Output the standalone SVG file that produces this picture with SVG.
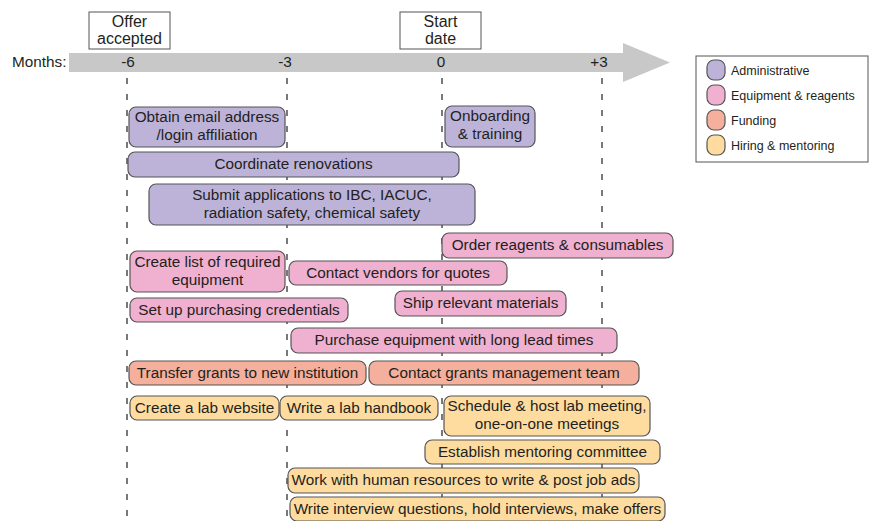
<svg xmlns="http://www.w3.org/2000/svg" width="869" height="521" viewBox="0 0 869 521">
<style>
text{font-family:"Liberation Sans",Arial,sans-serif;fill:#231f20;font-size:15.3px}
.c{text-anchor:middle}
.bar{stroke:#555;stroke-width:1.2}
.adm{fill:#bdb3d9}.eq{fill:#f0b0d0}.fun{fill:#f4b09c}.hir{fill:#fedca0}
.grid{stroke:#231f20;stroke-width:1.2;stroke-dasharray:6 10;fill:none}
.lg{font-size:12.5px}
.hdr{fill:#fff;stroke:#555;stroke-width:1}
.ht{font-size:16px}
</style>
<rect width="869" height="521" fill="#fff"/>
<g id="axis">
<path d="M69 53 H623 V43 L670 62.5 L623 82 V72 H69 Z" fill="#c8c8c8"/>
<text x="12" y="67">Months:</text>
<text class="c" x="128" y="67">-6</text>
<text class="c" x="285" y="67">-3</text>
<text class="c" x="441" y="67">0</text>
<text class="c" x="599" y="67">+3</text>
</g>
<g id="connectors">
<line class="grid" x1="127" y1="78" x2="127" y2="521"/>
<line class="grid" x1="287" y1="78" x2="287" y2="521"/>
<line class="grid" x1="442" y1="78" x2="442" y2="521"/>
<line class="grid" x1="602" y1="78" x2="602" y2="521"/>
</g>
<g id="offer">
<rect class="hdr" x="89" y="12" width="81" height="37"/>
<text class="c ht" x="129.5" y="27">Offer</text>
<text class="c ht" x="129.5" y="44">accepted</text>
</g>
<g id="start">
<rect class="hdr" x="400" y="12" width="81" height="37"/>
<text class="c ht" x="440.5" y="27">Start</text>
<text class="c ht" x="440.5" y="44">date</text>
</g>
<g id="legend">
<rect x="696" y="56" width="172" height="106" fill="#fff" stroke="#555" stroke-width="1"/>
<rect class="bar adm" x="707" y="60" width="18" height="20" rx="7"/>
<text class="lg" x="731" y="74.5">Administrative</text>
<rect class="bar eq" x="707" y="85" width="18" height="20" rx="7"/>
<text class="lg" x="731" y="99.5">Equipment &amp; reagents</text>
<rect class="bar fun" x="707" y="110" width="18" height="20" rx="7"/>
<text class="lg" x="731" y="124.5">Funding</text>
<rect class="bar hir" x="707" y="135" width="18" height="20" rx="7"/>
<text class="lg" x="731" y="149.5">Hiring &amp; mentoring</text>
</g>
<g id="obtain"><rect class="bar adm" x="129" y="107" width="156" height="40" rx="7"/>
<text class="c" x="207" y="121.5">Obtain email address</text><text class="c" x="207" y="139.5">/login affiliation</text></g>
<g id="onboarding"><rect class="bar adm" x="445" y="106" width="90" height="41" rx="7"/>
<text class="c" x="490" y="121">Onboarding</text><text class="c" x="490" y="139">&amp; training</text></g>
<g id="renovations"><rect class="bar adm" x="128" y="152" width="331" height="25" rx="7"/>
<text class="c" x="293.5" y="169">Coordinate renovations</text></g>
<g id="submit"><rect class="bar adm" x="149" y="184" width="326" height="41" rx="7"/>
<text class="c" x="312" y="200">Submit applications to IBC, IACUC,</text><text class="c" x="312" y="218">radiation safety, chemical safety</text></g>
<g id="order"><rect class="bar eq" x="442" y="233" width="231" height="25" rx="7"/>
<text class="c" x="557.5" y="250">Order reagents &amp; consumables</text></g>
<g id="createlist"><rect class="bar eq" x="130" y="251" width="155" height="41" rx="7"/>
<text class="c" x="207.5" y="267">Create list of required</text><text class="c" x="207.5" y="285">equipment</text></g>
<g id="vendors"><rect class="bar eq" x="289" y="261" width="218" height="24" rx="7"/>
<text class="c" x="398" y="277.5">Contact vendors for quotes</text></g>
<g id="credentials"><rect class="bar eq" x="130" y="298" width="218" height="24" rx="7"/>
<text class="c" x="239" y="314.5">Set up purchasing credentials</text></g>
<g id="ship"><rect class="bar eq" x="395" y="291" width="171" height="25" rx="7"/>
<text class="c" x="480.5" y="308">Ship relevant materials</text></g>
<g id="purchase"><rect class="bar eq" x="291" y="328" width="326" height="25" rx="7"/>
<text class="c" x="454" y="345">Purchase equipment with long lead times</text></g>
<g id="transfer"><rect class="bar fun" x="129" y="361" width="237" height="24" rx="7"/>
<text class="c" x="247.5" y="377.5">Transfer grants to new institution</text></g>
<g id="grantsteam"><rect class="bar fun" x="369" y="361" width="270" height="24" rx="7"/>
<text class="c" x="504" y="377.5">Contact grants management team</text></g>
<g id="website"><rect class="bar hir" x="130" y="396" width="149" height="24" rx="7"/>
<text class="c" x="204.5" y="412.5">Create a lab website</text></g>
<g id="handbook"><rect class="bar hir" x="280" y="396" width="158" height="24" rx="7"/>
<text class="c" x="359" y="412.5">Write a lab handbook</text></g>
<g id="schedule"><rect class="bar hir" x="444" y="396" width="206" height="40" rx="7"/>
<text class="c" x="547" y="411">Schedule &amp; host lab meeting,</text><text class="c" x="547" y="429">one-on-one meetings</text></g>
<g id="mentoring"><rect class="bar hir" x="425" y="440" width="235" height="24" rx="7"/>
<text class="c" x="542.5" y="456.5">Establish mentoring committee</text></g>
<g id="hr"><rect class="bar hir" x="288" y="468" width="351" height="25" rx="7"/>
<text class="c" x="463.5" y="485">Work with human resources to write &amp; post job ads</text></g>
<g id="interview"><rect class="bar hir" x="290" y="497" width="375" height="24" rx="7"/>
<text class="c" x="477.5" y="514">Write interview questions, hold interviews, make offers</text></g>
</svg>
